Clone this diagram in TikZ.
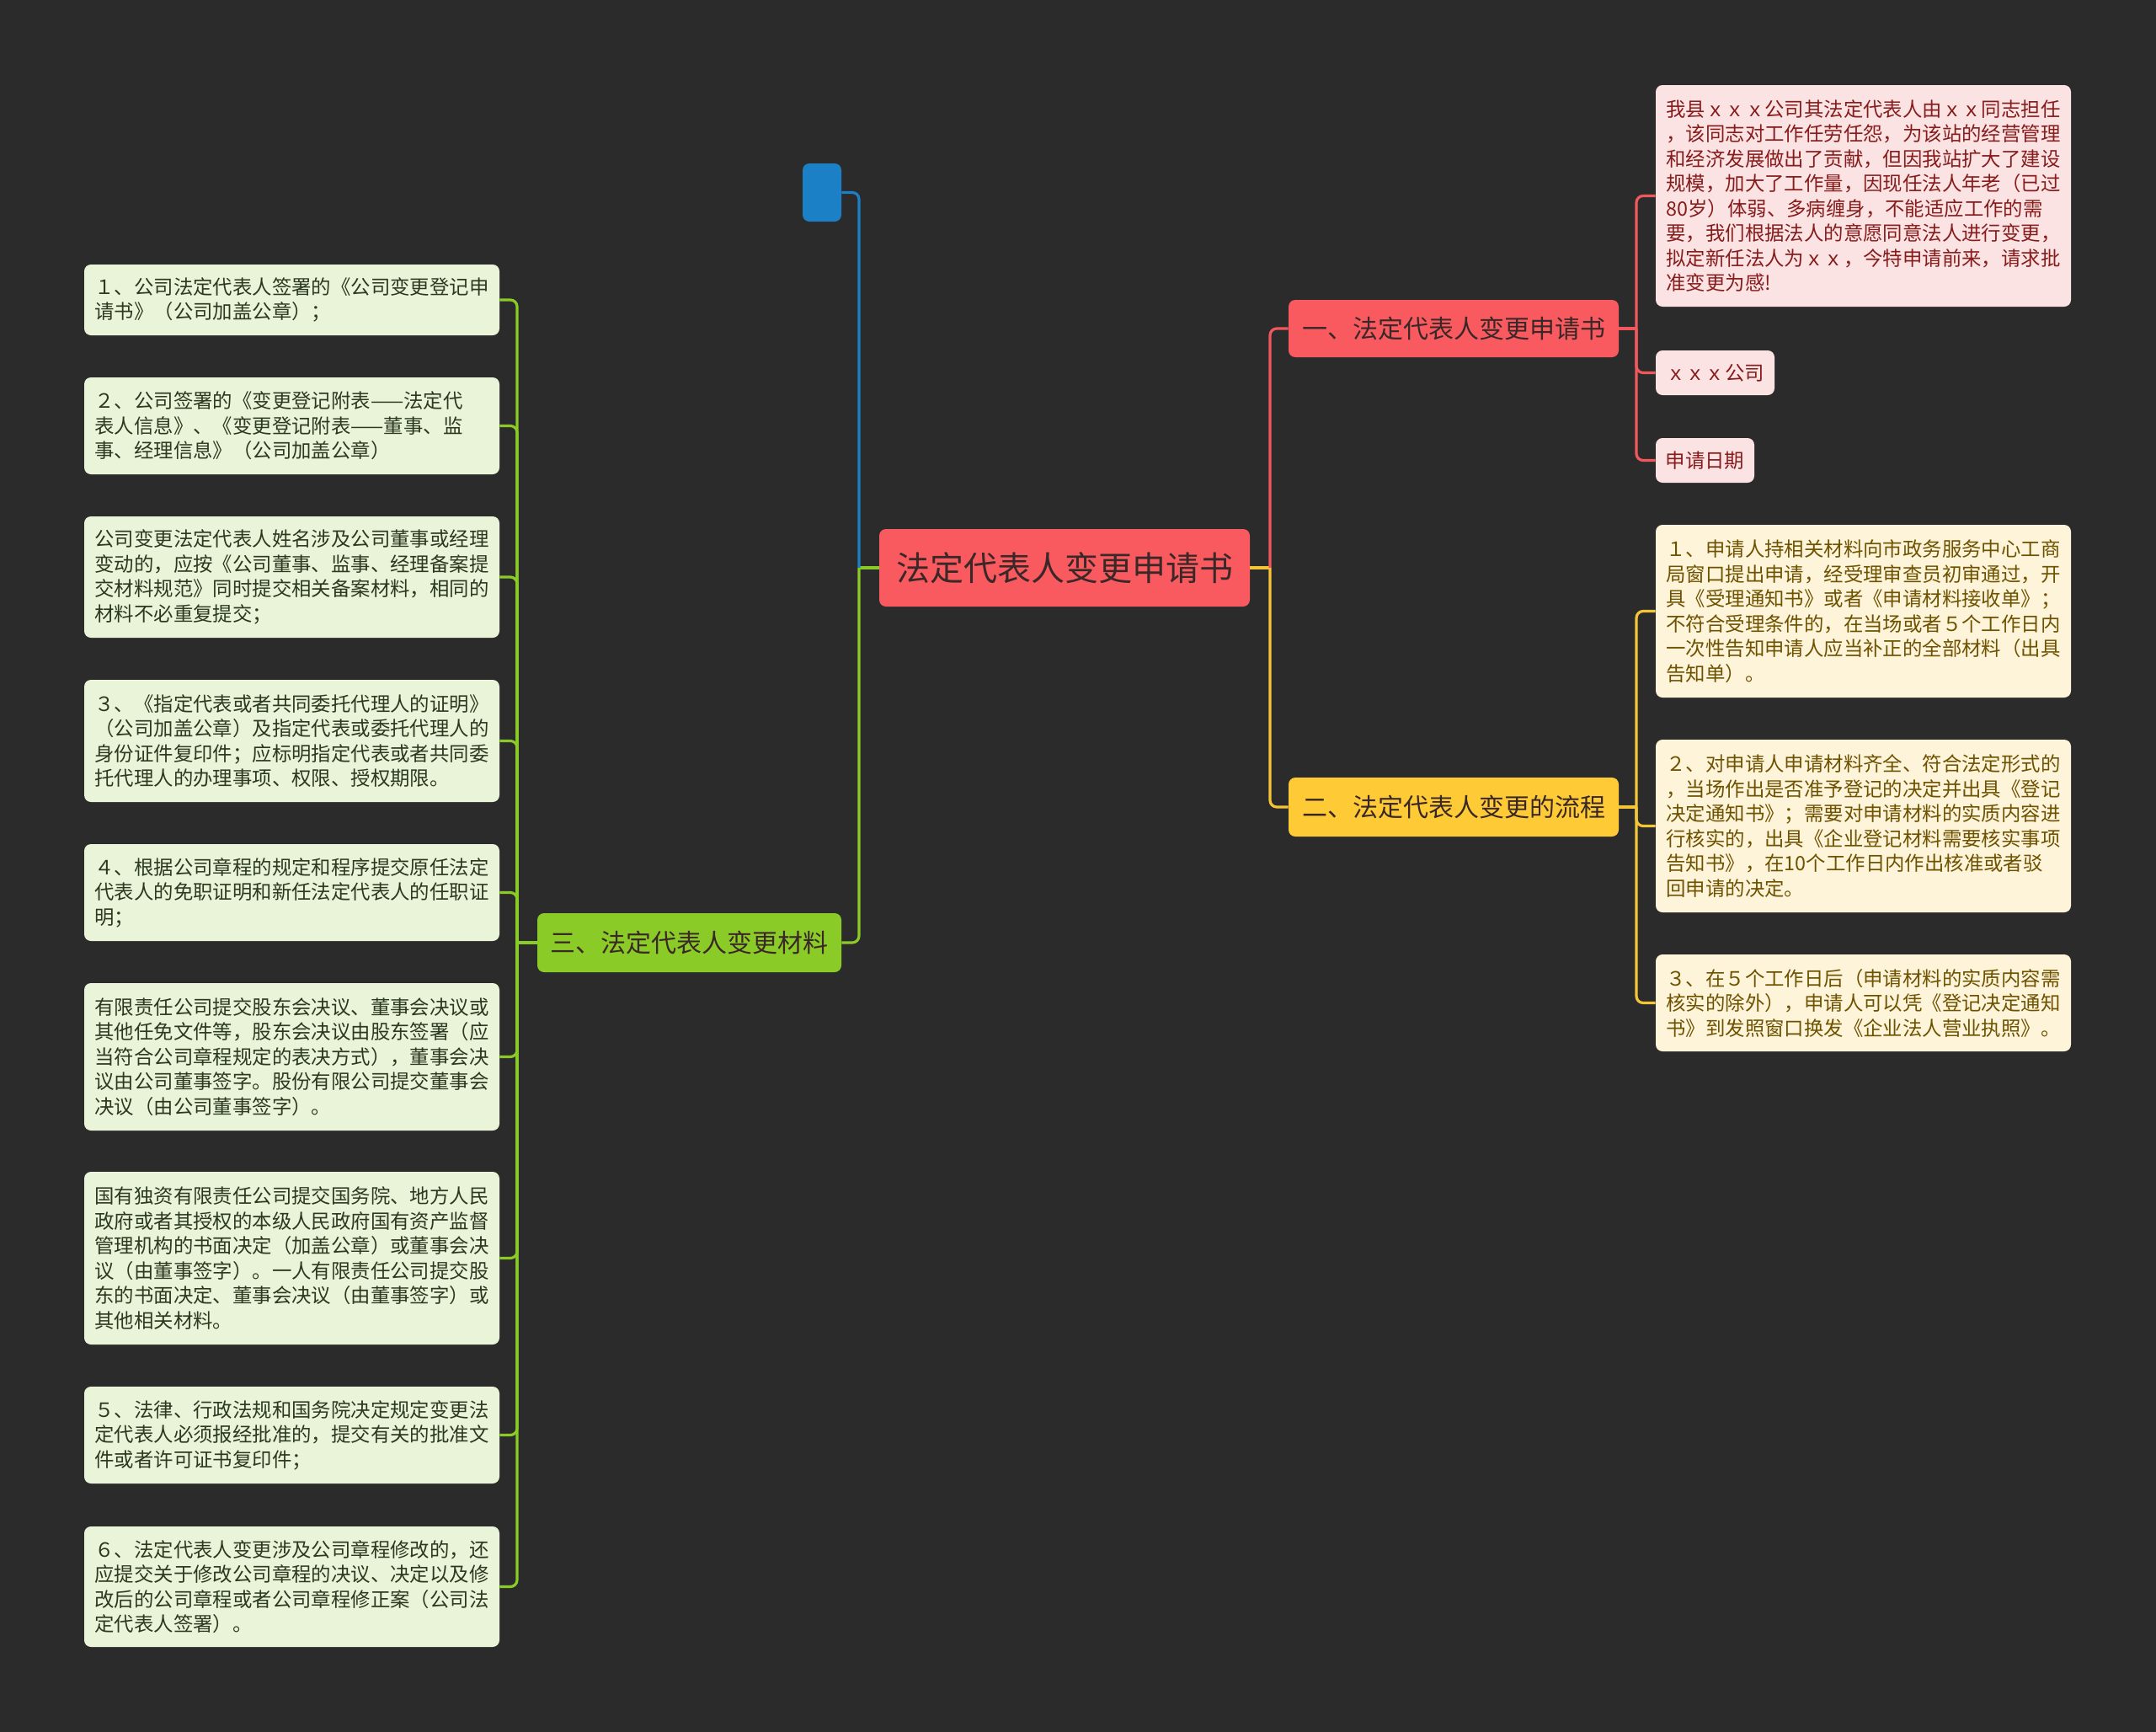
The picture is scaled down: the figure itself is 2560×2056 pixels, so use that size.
\documentclass[tikz,border=0pt]{standalone}
\usepackage{fontspec}
\setmainfont{Noto Sans CJK SC}
\definecolor{bg}{HTML}{2B2B2B}
\definecolor{cred}{HTML}{F95A5F}
\definecolor{cyel}{HTML}{FECB36}
\definecolor{cgrn}{HTML}{8BCB28}
\definecolor{cblu}{HTML}{1B80C6}
\definecolor{maintext}{HTML}{3A2828}
\definecolor{pfill}{HTML}{FCE3E3}
\definecolor{ptext}{HTML}{861C1C}
\definecolor{yfill}{HTML}{FDF4DA}
\definecolor{ytext}{HTML}{6E5200}
\definecolor{gfill}{HTML}{EAF4D9}
\definecolor{gtext}{HTML}{2C3820}
\definecolor{lred}{HTML}{F0585E}
\definecolor{lyel}{HTML}{F5C537}
\definecolor{lgrn}{HTML}{8BCB28}
\definecolor{lblu}{HTML}{1B80C6}
\begin{document}
\begin{tikzpicture}[x=0.5pt,y=-0.5pt,
  mainbox/.style={rounded corners=4pt, inner sep=0pt, text=maintext, align=center},
  rootbox/.style={mainbox, fill=cred, minimum width=220pt, minimum height=46pt, font=\fontsize{20pt}{24pt}\selectfont},
  subbox/.style={mainbox, minimum height=35pt, font=\fontsize{15pt}{18pt}\selectfont},
  leafbox/.style={rounded corners=4pt, inner xsep=6.25pt, inner ysep=0pt, text width=234pt, align=left, font=\fontsize{11.7pt}{14.75pt}\selectfont},
  smallbox/.style={rounded corners=4pt, inner sep=0pt, minimum height=26.5pt, align=center, font=\fontsize{11.7pt}{14.75pt}\selectfont},
  gleaf/.style={leafbox, fill=gfill, text=gtext},
  yleaf/.style={leafbox, fill=yfill, text=ytext},
  pleaf/.style={leafbox, fill=pfill, text=ptext},
  conn/.style={line width=1.6pt, rounded corners=4pt}
]
\fill[bg] (0,0) rectangle (2560,2056);
\useasboundingbox (0,0) rectangle (2560,2056);

% main nodes
\node[rootbox] (root) at (1264,674) {法定代表人变更申请书};
\node[subbox, fill=cred, minimum width=196pt, minimum height=34pt] (s1) at (1726,390) {一、法定代表人变更申请书};
\node[subbox, fill=cyel, minimum width=196pt] (s2) at (1726,958) {二、法定代表人变更的流程};
\node[subbox, fill=cgrn, minimum width=180.5pt] (s3) at (818.5,1119) {三、法定代表人变更材料};
\node[rounded corners=4pt, fill=cblu, minimum width=23pt, minimum height=34.5pt, inner sep=0pt] (bl) at (976,228.5) {};

% pink leaves
\node[pleaf, minimum height=131.5pt] (p1) at (2212.5,232.5) {我县ｘｘｘ公司其法定代表人由ｘｘ同志担任\\，该同志对工作任劳任怨，为该站的经营管理\\和经济发展做出了贡献，但因我站扩大了建设\\规模，加大了工作量，因现任法人年老（已过\\80岁）体弱、多病缠身，不能适应工作的需\\要，我们根据法人的意愿同意法人进行变更，\\拟定新任法人为ｘｘ，今特申请前来，请求批\\准变更为感!};
\node[smallbox, fill=pfill, text=ptext, minimum width=70.5pt] (p2) at (2036.5,442.5) {ｘｘｘ公司};
\node[smallbox, fill=pfill, text=ptext, minimum width=58.5pt] (p3) at (2024.5,546.5) {申请日期};

% yellow leaves
\node[yleaf, minimum height=102.5pt] (y1) at (2212.5,725.5) {１、申请人持相关材料向市政务服务中心工商\\局窗口提出申请，经受理审查员初审通过，开\\具《受理通知书》或者《申请材料接收单》；\\不符合受理条件的，在当场或者５个工作日内\\一次性告知申请人应当补正的全部材料（出具\\告知单）。};
\node[yleaf, minimum height=102.5pt] (y2) at (2212.5,980.5) {２、对申请人申请材料齐全、符合法定形式的\\，当场作出是否准予登记的决定并出具《登记\\决定通知书》；需要对申请材料的实质内容进\\行核实的，出具《企业登记材料需要核实事项\\告知书》，在10个工作日内作出核准或者驳\\回申请的决定。};
\node[yleaf, minimum height=57.5pt] (y3) at (2212.5,1190.5) {３、在５个工作日后（申请材料的实质内容需\\核实的除外），申请人可以凭《登记决定通知\\书》到发照窗口换发《企业法人营业执照》。};

% green leaves
\node[gleaf, minimum height=42pt] (g1) at (346.5,356) {１、公司法定代表人签署的《公司变更登记申\\请书》（公司加盖公章）；};
\node[gleaf, minimum height=57.5pt] (g2) at (346.5,505.5) {２、公司签署的《变更登记附表——法定代\\表人信息》、《变更登记附表——董事、监\\事、经理信息》（公司加盖公章）};
\node[gleaf, minimum height=72pt] (g3) at (346.5,685) {公司变更法定代表人姓名涉及公司董事或经理\\变动的，应按《公司董事、监事、经理备案提\\交材料规范》同时提交相关备案材料，相同的\\材料不必重复提交；};
\node[gleaf, minimum height=72.5pt] (g4) at (346.5,879.5) {３、《指定代表或者共同委托代理人的证明》\\（公司加盖公章）及指定代表或委托代理人的\\身份证件复印件；应标明指定代表或者共同委\\托代理人的办理事项、权限、授权期限。};
\node[gleaf, minimum height=57.5pt] (g5) at (346.5,1059.5) {４、根据公司章程的规定和程序提交原任法定\\代表人的免职证明和新任法定代表人的任职证\\明；};
\node[gleaf, minimum height=87.5pt] (g6) at (346.5,1254.5) {有限责任公司提交股东会决议、董事会决议或\\其他任免文件等，股东会决议由股东签署（应\\当符合公司章程规定的表决方式），董事会决\\议由公司董事签字。股份有限公司提交董事会\\决议（由公司董事签字）。};
\node[gleaf, minimum height=102.5pt] (g7) at (346.5,1493.5) {国有独资有限责任公司提交国务院、地方人民\\政府或者其授权的本级人民政府国有资产监督\\管理机构的书面决定（加盖公章）或董事会决\\议（由董事签字）。一人有限责任公司提交股\\东的书面决定、董事会决议（由董事签字）或\\其他相关材料。};
\node[gleaf, minimum height=57.5pt] (g8) at (346.5,1703.5) {５、法律、行政法规和国务院决定规定变更法\\定代表人必须报经批准的，提交有关的批准文\\件或者许可证书复印件；};
\node[gleaf, minimum height=71.5pt] (g9) at (346.5,1883.5) {６、法定代表人变更涉及公司章程修改的，还\\应提交关于修改公司章程的决议、决定以及修\\改后的公司章程或者公司章程修正案（公司法\\定代表人签署）。};

% junctions
\coordinate (jl) at (1020,674);
\coordinate (jr) at (1508,674);
\coordinate (j1) at (1943,390);
\coordinate (j2) at (1943,958);
\coordinate (j3) at (614,1119);

% connectors
\draw[conn, lgrn] (root.west) -- (jl);
\draw[conn, lgrn] (jl) |- (s3.east);
\draw[conn, lblu] (jl) |- (bl.east);
\draw[conn, lyel] (root.east) -- (jr);
\draw[conn, lred] (jr) |- (s1.west);
\draw[conn, lyel] (jr) |- (s2.west);

\draw[conn, lred] (s1.east) -- (j1);
\foreach \n in {p1,p2,p3} \draw[conn, lred] (j1) |- (\n.west);
\draw[conn, lyel] (s2.east) -- (j2);
\foreach \n in {y1,y2,y3} \draw[conn, lyel] (j2) |- (\n.west);
\draw[conn, lgrn] (s3.west) -- (j3);
\foreach \n in {g1,g2,g3,g4,g5,g6,g7,g8,g9} \draw[conn, lgrn] (j3) |- (\n.east);
\end{tikzpicture}
\end{document}
